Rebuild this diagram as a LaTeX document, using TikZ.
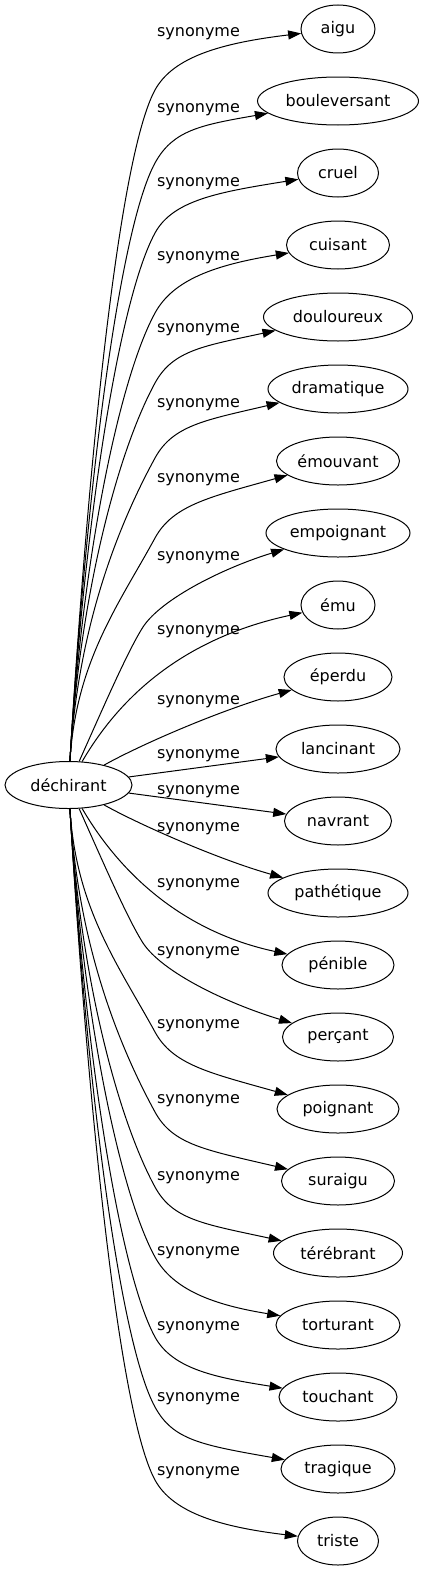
\documentclass[tikz,border=0pt]{standalone}
\usepackage{fontspec}
\setmainfont{DejaVu Sans}
\usetikzlibrary{shapes.geometric,arrows.meta}
\begin{document}
\begin{tikzpicture}[x=1pt,y=-1pt,
  word/.style={draw, ellipse, line width=1pt, inner sep=0pt, minimum height=48pt, font=\fontsize{16}{19}\selectfont},
  syn/.style={anchor=base, inner sep=0pt, font=\fontsize{16}{19}\selectfont},
  rel/.style={line width=1pt, -{Triangle[length=13pt,width=9pt]}}]
  \useasboundingbox (0,0) rectangle (423,1571);

  % the word and its synonyms
  \node[word, minimum width=127pt, minimum height=47pt] (dech) at (68.5,785) {déchirant};
  \node[word, minimum width=74pt] (aigu) at (338,29) {aigu};  \node[word, minimum width=161pt] (bouleversant) at (338,101) {bouleversant};
  \node[word, minimum width=81pt] (cruel) at (338,173) {cruel};  \node[word, minimum width=103pt] (cuisant) at (338,245) {cuisant};
  \node[word, minimum width=149pt] (douloureux) at (338,317) {douloureux};  \node[word, minimum width=140pt] (dramatique) at (338,389) {dramatique};
  \node[word, minimum width=123pt] (emouvant) at (338,461) {émouvant};  \node[word, minimum width=144pt] (empoignant) at (338,533) {empoignant};
  \node[word, minimum width=74pt] (emu) at (338,605) {ému};  \node[word, minimum width=108pt] (eperdu) at (338,677) {éperdu};
  \node[word, minimum width=124pt] (lancinant) at (338,749) {lancinant};  \node[word, minimum width=107pt] (navrant) at (338,821) {navrant};
  \node[word, minimum width=140pt] (pathetique) at (338,893) {pathétique};  \node[word, minimum width=112pt] (penible) at (338,965) {pénible};
  \node[word, minimum width=111pt] (percant) at (338,1037) {perçant};  \node[word, minimum width=122pt] (poignant) at (338,1109) {poignant};
  \node[word, minimum width=113pt] (suraigu) at (338,1181) {suraigu};  \node[word, minimum width=129pt] (terebrant) at (338,1253) {térébrant};
  \node[word, minimum width=124pt] (torturant) at (338,1325) {torturant};  \node[word, minimum width=118pt] (touchant) at (338,1397) {touchant};
  \node[word, minimum width=114pt] (tragique) at (338,1469) {tragique};  \node[word, minimum width=81pt] (triste) at (338,1541) {triste};

  % edge labels
  \node[syn] (s-aigu) at (198.5,37) {synonyme};  \node[syn] (s-bouleversant) at (198.5,112) {synonyme};
  \node[syn] (s-cruel) at (198.5,186) {synonyme};  \node[syn] (s-cuisant) at (198.5,260) {synonyme};
  \node[syn] (s-douloureux) at (198.5,332) {synonyme};  \node[syn] (s-dramatique) at (198.5,407) {synonyme};
  \node[syn] (s-emouvant) at (198.5,482) {synonyme};  \node[syn] (s-empoignant) at (198.5,560) {synonyme};
  \node[syn] (s-emu) at (198.5,634) {synonyme};  \node[syn] (s-eperdu) at (198.5,704) {synonyme};
  \node[syn] (s-lancinant) at (198.5,758) {synonyme};  \node[syn] (s-navrant) at (198.5,794) {synonyme};
  \node[syn] (s-pathetique) at (198.5,831) {synonyme};  \node[syn] (s-penible) at (198.5,887) {synonyme};
  \node[syn] (s-percant) at (198.5,955) {synonyme};  \node[syn] (s-poignant) at (198.5,1028) {synonyme};
  \node[syn] (s-suraigu) at (198.5,1103) {synonyme};  \node[syn] (s-terebrant) at (198.5,1180) {synonyme};
  \node[syn] (s-torturant) at (198.5,1255) {synonyme};  \node[syn] (s-touchant) at (198.5,1330) {synonyme};
  \node[syn] (s-tragique) at (198.5,1401) {synonyme};  \node[syn] (s-triste) at (198.5,1475) {synonyme};

  % upper fan
  \draw[rel] (dech) .. controls (88,460) and (119,156) .. (155,90) .. controls (173,57) and (221,43) .. (aigu);
  \draw[rel] (dech) .. controls (86,492) and (119,229) .. (155,163) .. controls (173,130) and (201,125) .. (bouleversant);
  \draw[rel] (dech) .. controls (84,524) and (119,299) .. (155,233) .. controls (173,200) and (219,192) .. (cruel);
  \draw[rel] (dech) .. controls (82,560) and (119,379) .. (155,313) .. controls (173,280) and (214,265) .. (cuisant);
  \draw[rel] (dech) .. controls (80,591) and (119,449) .. (155,383) .. controls (173,350) and (204,346) .. (douloureux);
  \draw[rel] (dech) .. controls (78,625) and (119,524) .. (155,458) .. controls (173,425) and (206,420) .. (dramatique);
  \draw[rel] (dech) .. controls (76,661) and (119,604) .. (155,538) .. controls (173,505) and (210,497) .. (emouvant);
  \draw[rel] (dech) .. controls (100,715) and (127,652) .. (143,627) .. controls (162,598) and (226,567) .. (empoignant);
  \draw[rel] (dech) .. controls (115,705) and (175,640) .. (emu);
  \draw[rel] (dech) .. controls (140,745) and (220,710) .. (eperdu);
  \draw[rel] (dech) -- (lancinant);

  % lower fan
  \draw[rel] (dech) -- (navrant);
  \draw[rel] (dech) .. controls (140,825) and (220,860) .. (pathetique);
  \draw[rel] (dech) .. controls (115,865) and (175,930) .. (penible);
  \draw[rel] (dech) .. controls (100,855) and (127,918) .. (143,943) .. controls (162,972) and (226,1003) .. (percant);
  \draw[rel] (dech) .. controls (76,909) and (119,966) .. (155,1032) .. controls (173,1065) and (210,1073) .. (poignant);
  \draw[rel] (dech) .. controls (78,945) and (119,1046) .. (155,1112) .. controls (173,1145) and (206,1150) .. (suraigu);
  \draw[rel] (dech) .. controls (80,979) and (119,1121) .. (155,1187) .. controls (173,1220) and (204,1224) .. (terebrant);
  \draw[rel] (dech) .. controls (82,1010) and (119,1191) .. (155,1257) .. controls (173,1290) and (214,1305) .. (torturant);
  \draw[rel] (dech) .. controls (84,1046) and (119,1271) .. (155,1337) .. controls (173,1370) and (219,1378) .. (touchant);
  \draw[rel] (dech) .. controls (86,1078) and (119,1341) .. (155,1407) .. controls (173,1440) and (201,1445) .. (tragique);
  \draw[rel] (dech) .. controls (88,1110) and (119,1414) .. (155,1480) .. controls (173,1513) and (221,1527) .. (triste);

\end{tikzpicture}
\end{document}
